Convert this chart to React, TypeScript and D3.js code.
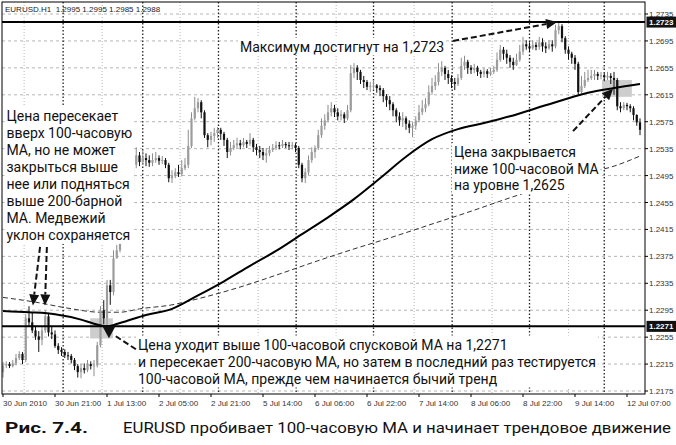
import { useEffect, useRef } from 'react'
import * as d3 from 'd3'

const W = 676
const H = 445

// EURUSD H1 bars, 30 Jun 05:00 .. 12 Jul 09:00
const firstOpen = 1.2203
const closes = [
  1.2213, 1.2215, 1.2212, 1.2216, 1.2224, 1.2230, 1.2221, 1.2283, 1.2277, 1.2265,
  1.2256, 1.2251, 1.2265, 1.2286, 1.2262, 1.2259, 1.2242, 1.2236, 1.2233, 1.2228,
  1.2227, 1.2221, 1.2212, 1.2203, 1.2209, 1.2206, 1.2215, 1.2212, 1.2213, 1.2243,
  1.2295, 1.2283, 1.2332, 1.2322, 1.2372, 1.2384, 1.2407, 1.2436, 1.2451, 1.2473,
  1.2511, 1.2525, 1.2515, 1.2521, 1.2518, 1.2514, 1.2518, 1.2521, 1.2517, 1.2518,
  1.2511, 1.2491, 1.2494, 1.2500, 1.2497, 1.2506, 1.2511, 1.2539, 1.2580, 1.2595,
  1.2604, 1.2589, 1.2555, 1.2548, 1.2554, 1.2558, 1.2563, 1.2557, 1.2548, 1.2530,
  1.2536, 1.2540, 1.2543, 1.2540, 1.2545, 1.2542, 1.2548, 1.2537, 1.2533, 1.2530,
  1.2525, 1.2528, 1.2533, 1.2536, 1.2540, 1.2539, 1.2542, 1.2540, 1.2539, 1.2540,
  1.2536, 1.2511, 1.2491, 1.2500, 1.2518, 1.2530, 1.2536, 1.2555, 1.2569, 1.2577,
  1.2589, 1.2595, 1.2589, 1.2583, 1.2586, 1.2580, 1.2592, 1.2647, 1.2655, 1.2649,
  1.2637, 1.2634, 1.2627, 1.2628, 1.2629, 1.2625, 1.2622, 1.2613, 1.2607, 1.2601,
  1.2592, 1.2583, 1.2577, 1.2580, 1.2572, 1.2566, 1.2569, 1.2577, 1.2589, 1.2595,
  1.2601, 1.2619, 1.2628, 1.2634, 1.2649, 1.2655, 1.2646, 1.2640, 1.2634, 1.2631,
  1.2640, 1.2658, 1.2664, 1.2655, 1.2652, 1.2655, 1.2649, 1.2646, 1.2650, 1.2646,
  1.2649, 1.2652, 1.2667, 1.2682, 1.2676, 1.2670, 1.2664, 1.2659, 1.2667, 1.2679,
  1.2690, 1.2687, 1.2684, 1.2689, 1.2686, 1.2693, 1.2687, 1.2684, 1.2690, 1.2687,
  1.2711, 1.2717, 1.2699, 1.2682, 1.2676, 1.2670, 1.2661, 1.2619, 1.2628, 1.2637,
  1.2640, 1.2643, 1.2646, 1.2643, 1.2644, 1.2641, 1.2643, 1.2640, 1.2637, 1.2598,
  1.2595, 1.2600, 1.2598, 1.2595, 1.2585, 1.2574, 1.2563,
]
const highs = [
  1.2218, 1.2219, 1.2218, 1.2221, 1.2230, 1.2234, 1.2233, 1.2289, 1.2301, 1.2291,
  1.2271, 1.2264, 1.2271, 1.2295, 1.2291, 1.2270, 1.2265, 1.2246, 1.2240, 1.2237,
  1.2233, 1.2230, 1.2224, 1.2215, 1.2215, 1.2216, 1.2221, 1.2219, 1.2221, 1.2248,
  1.2301, 1.2310, 1.2340, 1.2340, 1.2384, 1.2392, 1.2417, 1.2444, 1.2466, 1.2491,
  1.2518, 1.2537, 1.2530, 1.2533, 1.2528, 1.2525, 1.2528, 1.2530, 1.2525, 1.2524,
  1.2521, 1.2514, 1.2503, 1.2506, 1.2511, 1.2518, 1.2521, 1.2563, 1.2589, 1.2612,
  1.2610, 1.2607, 1.2592, 1.2558, 1.2560, 1.2566, 1.2567, 1.2566, 1.2560, 1.2551,
  1.2545, 1.2548, 1.2551, 1.2548, 1.2551, 1.2548, 1.2558, 1.2551, 1.2542, 1.2539,
  1.2536, 1.2536, 1.2539, 1.2542, 1.2546, 1.2545, 1.2548, 1.2545, 1.2545, 1.2545,
  1.2543, 1.2539, 1.2514, 1.2506, 1.2525, 1.2537, 1.2540, 1.2563, 1.2580, 1.2586,
  1.2600, 1.2604, 1.2600, 1.2595, 1.2592, 1.2589, 1.2600, 1.2659, 1.2662, 1.2659,
  1.2652, 1.2643, 1.2637, 1.2634, 1.2637, 1.2631, 1.2629, 1.2625, 1.2616, 1.2613,
  1.2604, 1.2595, 1.2589, 1.2589, 1.2583, 1.2577, 1.2574, 1.2583, 1.2600, 1.2607,
  1.2610, 1.2629, 1.2640, 1.2644, 1.2662, 1.2665, 1.2658, 1.2652, 1.2644, 1.2640,
  1.2646, 1.2670, 1.2673, 1.2667, 1.2659, 1.2661, 1.2658, 1.2652, 1.2655, 1.2653,
  1.2655, 1.2658, 1.2678, 1.2689, 1.2686, 1.2682, 1.2674, 1.2670, 1.2676, 1.2689,
  1.2701, 1.2696, 1.2693, 1.2696, 1.2693, 1.2701, 1.2699, 1.2693, 1.2696, 1.2696,
  1.2719, 1.2723, 1.2720, 1.2702, 1.2687, 1.2679, 1.2674, 1.2664, 1.2643, 1.2649,
  1.2652, 1.2652, 1.2652, 1.2649, 1.2649, 1.2647, 1.2649, 1.2647, 1.2649, 1.2640,
  1.2604, 1.2604, 1.2603, 1.2601, 1.2598, 1.2586, 1.2580,
]
const lows = [
  1.2195, 1.2209, 1.2209, 1.2210, 1.2213, 1.2221, 1.2215, 1.2218, 1.2271, 1.2261,
  1.2251, 1.2233, 1.2243, 1.2261, 1.2256, 1.2252, 1.2239, 1.2230, 1.2227, 1.2224,
  1.2221, 1.2216, 1.2206, 1.2195, 1.2194, 1.2201, 1.2203, 1.2207, 1.2197, 1.2210,
  1.2240, 1.2274, 1.2271, 1.2303, 1.2317, 1.2372, 1.2381, 1.2402, 1.2429, 1.2447,
  1.2463, 1.2506, 1.2509, 1.2511, 1.2509, 1.2508, 1.2509, 1.2514, 1.2511, 1.2512,
  1.2506, 1.2485, 1.2484, 1.2491, 1.2493, 1.2494, 1.2503, 1.2506, 1.2536, 1.2577,
  1.2589, 1.2580, 1.2551, 1.2537, 1.2540, 1.2545, 1.2551, 1.2548, 1.2539, 1.2521,
  1.2525, 1.2533, 1.2536, 1.2534, 1.2537, 1.2536, 1.2539, 1.2530, 1.2525, 1.2521,
  1.2518, 1.2514, 1.2524, 1.2530, 1.2533, 1.2534, 1.2536, 1.2536, 1.2533, 1.2534,
  1.2530, 1.2506, 1.2485, 1.2484, 1.2496, 1.2514, 1.2521, 1.2533, 1.2551, 1.2563,
  1.2574, 1.2583, 1.2582, 1.2577, 1.2577, 1.2573, 1.2577, 1.2589, 1.2640, 1.2637,
  1.2631, 1.2625, 1.2622, 1.2619, 1.2622, 1.2618, 1.2613, 1.2604, 1.2597, 1.2592,
  1.2583, 1.2574, 1.2569, 1.2567, 1.2563, 1.2558, 1.2552, 1.2563, 1.2574, 1.2585,
  1.2589, 1.2598, 1.2615, 1.2622, 1.2629, 1.2643, 1.2637, 1.2631, 1.2625, 1.2622,
  1.2628, 1.2637, 1.2652, 1.2646, 1.2646, 1.2647, 1.2643, 1.2640, 1.2641, 1.2640,
  1.2643, 1.2646, 1.2649, 1.2664, 1.2667, 1.2661, 1.2655, 1.2652, 1.2658, 1.2664,
  1.2674, 1.2682, 1.2679, 1.2682, 1.2681, 1.2682, 1.2679, 1.2677, 1.2682, 1.2679,
  1.2684, 1.2705, 1.2693, 1.2676, 1.2667, 1.2661, 1.2652, 1.2615, 1.2616, 1.2625,
  1.2634, 1.2637, 1.2637, 1.2637, 1.2638, 1.2635, 1.2637, 1.2631, 1.2615, 1.2592,
  1.2589, 1.2592, 1.2592, 1.2589, 1.2577, 1.2569, 1.2555,
]

// moving averages, sampled [bar, price]
const ma100 = [
  [0, 1.2294], [8, 1.2292], [16, 1.2289], [24, 1.2281], [28, 1.2275], [32, 1.2271],
  [36, 1.2276], [44, 1.2288], [52, 1.2297], [60, 1.2317], [68, 1.2338], [76, 1.2361],
  [84, 1.2383], [92, 1.2408], [100, 1.2433], [108, 1.2460], [116, 1.2491], [124, 1.2523],
  [132, 1.2549], [140, 1.2564], [148, 1.2573], [156, 1.2583], [164, 1.2595], [172, 1.2607],
  [180, 1.2618], [188, 1.2625], [196, 1.2631],
]
const ma200 = [
  [0, 1.2314], [10, 1.2307], [20, 1.2298], [30, 1.2292], [36, 1.2292], [42, 1.2297],
  [52, 1.2303], [60, 1.2312], [72, 1.2328], [84, 1.2347], [96, 1.2367], [108, 1.2386],
  [120, 1.2404], [132, 1.2423], [144, 1.2442], [156, 1.2462], [168, 1.2481], [180, 1.2499],
  [188, 1.2509], [196, 1.2524],
]

const priceTicks = [
  1.2175, 1.2215, 1.2255, 1.2295, 1.2335, 1.2375, 1.2415, 1.2455,
  1.2495, 1.2535, 1.2575, 1.2615, 1.2655, 1.2695, 1.2735,
]
const levels = [1.2723, 1.2271]
const timeLabels = [
  '30 Jun 2010', '30 Jun 21:00', '1 Jul 13:00', '2 Jul 05:00', '2 Jul 21:00', '5 Jul 14:00',
  '6 Jul 06:00', '6 Jul 22:00', '7 Jul 14:00', '8 Jul 06:00', '8 Jul 22:00', '9 Jul 14:00',
  '12 Jul 07:00',
]
const timeLabelBars = [0, 16, 32, 48, 64, 80, 96, 112, 128, 144, 160, 176, 192]
const daySeparators = [18.5, 43, 66.3, 90.2, 114, 138.2, 162, 185]
const halfDayLines = [6.5, 30.5, 54.5, 78.5, 102.5, 126.5, 150.5, 174]

// shaded zones [bar0, bar1, priceLow, priceHigh]
const zones = [
  [26.8, 33.8, 1.2253, 1.2283],
  [184.3, 193.5, 1.2612, 1.2637],
]
// dashed arrows [bar, price] -> [bar, price]
const arrows = [
  [[138.5, 1.2695], [170.5, 1.2723]],
  [[175.4, 1.2561], [187.7, 1.2624]],
  [[11.4, 1.2389], [9.2, 1.2302]],
  [[13.5, 1.2389], [12.9, 1.2302]],
]
const testPoint = [32.6, 1.2271]
const connector = [[40.9, 1.2237], [34.5, 1.2257]]

const noteTop = ['Максимум достигнут на 1,2723']
const noteLeft = [
  'Цена пересекает', 'вверх 100-часовую', 'МА, но не может', 'закрыться выше',
  'нее или подняться', 'выше 200-барной', 'МА. Медвежий', 'уклон сохраняется',
]
const noteRight = ['Цена закрывается', 'ниже 100-часовой МА', 'на уровне 1,2625']
const noteBottom = [
  'Цена уходит выше 100-часовой спусковой МА на 1,2271',
  'и пересекает 200-часовую МА, но затем в последний раз тестируется',
  '100-часовой МА, прежде чем начинается бычий тренд',
]
const header = 'EURUSD.H1  1.2995 1.2995 1.2985 1.2988'

const AXIS_FONT = '"Liberation Sans", Arial, sans-serif'
const NOTE_FONT = 'Roboto, "Noto Sans", sans-serif'

export default function App() {
  const ref = useRef<SVGSVGElement>(null)

  useEffect(() => {
    if (!ref.current) return
    const svg = d3.select(ref.current)
    svg.selectAll('*').remove()

    const left = 2, top = 2, right = 645, bottom = 394
    const x = d3.scaleLinear().domain([0, 196]).range([3, 640])
    const y = d3.scaleLinear().domain([1.2175, 1.2735]).range([391, 14])

    svg.append('rect').attr('width', W).attr('height', H).attr('fill', '#fff')

    svg.append('clipPath').attr('id', 'plot')
      .append('rect').attr('x', left).attr('y', top)
      .attr('width', right - left).attr('height', bottom - top)

    const plot = svg.append('g').attr('clip-path', 'url(#plot)')

    // grid
    plot.selectAll('.hgrid').data(priceTicks).enter().append('line')
      .attr('x1', left).attr('x2', right)
      .attr('y1', d => y(d)).attr('y2', d => y(d))
      .attr('stroke', '#b5b5b5').attr('stroke-dasharray', '3,3')
    plot.selectAll('.vgrid').data(halfDayLines).enter().append('line')
      .attr('x1', d => x(d)).attr('x2', d => x(d))
      .attr('y1', top).attr('y2', bottom)
      .attr('stroke', '#b5b5b5').attr('stroke-dasharray', '1,2')
    plot.selectAll('.sep').data(daySeparators).enter().append('line')
      .attr('x1', d => x(d)).attr('x2', d => x(d))
      .attr('y1', top).attr('y2', bottom)
      .attr('stroke', '#222').attr('stroke-width', 1.3).attr('stroke-dasharray', '1.5,2')

    // shaded zones
    plot.selectAll('.zone').data(zones).enter().append('rect')
      .attr('x', d => x(d[0])).attr('width', d => x(d[1]) - x(d[0]))
      .attr('y', d => y(d[3])).attr('height', d => y(d[2]) - y(d[3]))
      .attr('fill', '#cdcdcd')

    // 200 MA
    const line = d3.line<number[]>().x(d => x(d[0])).y(d => y(d[1])).curve(d3.curveMonotoneX)
    plot.append('path').attr('d', line(ma200))
      .attr('fill', 'none').attr('stroke', '#333').attr('stroke-width', 1)
      .attr('stroke-dasharray', '5,3')

    // candles
    const bars = closes.map((c, i) => ({
      i, o: i === 0 ? firstOpen : closes[i - 1], c, h: highs[i], l: lows[i],
    }))
    const cg = plot.append('g')
    bars.forEach(b => {
      const up = b.c >= b.o
      const col = up ? '#8d8d8d' : '#111'
      cg.append('line')
        .attr('x1', x(b.i)).attr('x2', x(b.i))
        .attr('y1', y(b.h)).attr('y2', y(b.l))
        .attr('stroke', col).attr('stroke-width', 1)
      const y0 = y(Math.max(b.o, b.c))
      cg.append('rect')
        .attr('x', x(b.i) - 1.1).attr('width', 2.2)
        .attr('y', y0).attr('height', Math.max(1, y(Math.min(b.o, b.c)) - y0))
        .attr('fill', up ? '#9c9c9c' : '#111')
    })

    // 100 MA
    plot.append('path').attr('d', line(ma100))
      .attr('fill', 'none').attr('stroke', '#000').attr('stroke-width', 2)

    // price levels
    plot.selectAll('.level').data(levels).enter().append('line')
      .attr('x1', left).attr('x2', right)
      .attr('y1', d => y(d)).attr('y2', d => y(d))
      .attr('stroke', '#000').attr('stroke-width', 2)

    // notes with white backing
    const note = (lines: string[], nx: number, ny: number, lh: number) => {
      const g = svg.append('g')
      const bg = g.append('rect').attr('fill', '#fff')
      lines.forEach((t, k) => {
        g.append('text').attr('x', nx).attr('y', ny + k * lh).text(t)
          .attr('font-family', NOTE_FONT).attr('font-size', 14).attr('fill', '#111')
      })
      const bb = (g.node() as SVGGElement).getBBox()
      bg.attr('x', bb.x - 2).attr('y', bb.y - 1).attr('width', bb.width + 4).attr('height', bb.height + 2)
    }
    note(noteTop, 240, 51.5, 17)
    note(noteLeft, 6.5, 120.5, 17.05)
    note(noteRight, 454, 157, 16.5)
    note(noteBottom, 138, 349.5, 17)

    // arrows
    const ag = svg.append('g')
    const arrow = (p1: number[], p2: number[]) => {
      const x1 = x(p1[0]), y1 = y(p1[1]), x2 = x(p2[0]), y2 = y(p2[1])
      const len = Math.hypot(x2 - x1, y2 - y1)
      const ux = (x2 - x1) / len, uy = (y2 - y1) / len
      const L = 11, hw = 5
      const bx = x2 - ux * L, by = y2 - uy * L
      ag.append('line').attr('x1', x1).attr('y1', y1).attr('x2', bx).attr('y2', by)
        .attr('stroke', '#111').attr('stroke-width', 2).attr('stroke-dasharray', '6,3')
      ag.append('path')
        .attr('d', `M${x2},${y2}L${bx - uy * hw},${by + ux * hw}L${bx + uy * hw},${by - ux * hw}Z`)
        .attr('fill', '#111')
    }
    arrows.forEach(a => arrow(a[0], a[1]))
    ag.append('line')
      .attr('x1', x(connector[0][0])).attr('y1', y(connector[0][1]))
      .attr('x2', x(connector[1][0])).attr('y2', y(connector[1][1]))
      .attr('stroke', '#111').attr('stroke-width', 2).attr('stroke-dasharray', '6,3')
    const tx = x(testPoint[0]), ty = y(testPoint[1])
    ag.append('path').attr('d', `M${tx - 6.5},${ty}L${tx + 6.5},${ty}L${tx},${ty + 12}Z`).attr('fill', '#111')

    // frame
    svg.append('rect').attr('x', left).attr('y', top)
      .attr('width', right - left).attr('height', bottom - top)
      .attr('fill', 'none').attr('stroke', '#000').attr('stroke-width', 1)

    svg.append('text').attr('x', 5).attr('y', 11.5).text(header)
      .attr('font-family', AXIS_FONT).attr('font-size', 8).attr('fill', '#222')
      .attr('xml:space', 'preserve').style('white-space', 'pre')

    // price axis
    const pa = svg.append('g')
    priceTicks.forEach(v => {
      pa.append('line').attr('x1', right).attr('x2', right + 3)
        .attr('y1', y(v)).attr('y2', y(v)).attr('stroke', '#000')
      pa.append('text').attr('x', 649).attr('y', y(v) + 3).text(v.toFixed(4))
        .attr('font-family', AXIS_FONT).attr('font-size', 8).attr('fill', '#333')
    })
    levels.forEach(v => {
      pa.append('rect').attr('x', 646.5).attr('y', y(v) - 5.5).attr('width', 29.5).attr('height', 11)
        .attr('fill', '#111')
      pa.append('text').attr('x', 649).attr('y', y(v) + 3).text(v.toFixed(4))
        .attr('font-family', AXIS_FONT).attr('font-size', 8).attr('font-weight', 'bold').attr('fill', '#fff')
    })

    // time axis
    const ta = svg.append('g')
    timeLabelBars.forEach((b, k) => {
      ta.append('line').attr('x1', x(b)).attr('x2', x(b))
        .attr('y1', bottom).attr('y2', bottom + 3).attr('stroke', '#000')
      ta.append('text').attr('x', x(b)).attr('y', 406).text(timeLabels[k])
        .attr('font-family', AXIS_FONT).attr('font-size', 8).attr('fill', '#333')
    })

    // caption
    svg.append('text').attr('x', 5).attr('y', 433).text('Рис. 7.4.')
      .attr('font-family', NOTE_FONT).attr('font-size', 15).attr('font-weight', 'bold')
      .attr('fill', '#111').attr('textLength', 83).attr('lengthAdjust', 'spacingAndGlyphs')
    svg.append('text').attr('x', 123).attr('y', 433)
      .text('EURUSD пробивает 100-часовую МА и начинает трендовое движение')
      .attr('font-family', NOTE_FONT).attr('font-size', 15)
      .attr('fill', '#111').attr('textLength', 548).attr('lengthAdjust', 'spacingAndGlyphs')
  }, [])

  return (
    <svg ref={ref} width={W} height={H}
      style={{ position: 'absolute', left: 0, top: 0, display: 'block' }} />
  )
}
